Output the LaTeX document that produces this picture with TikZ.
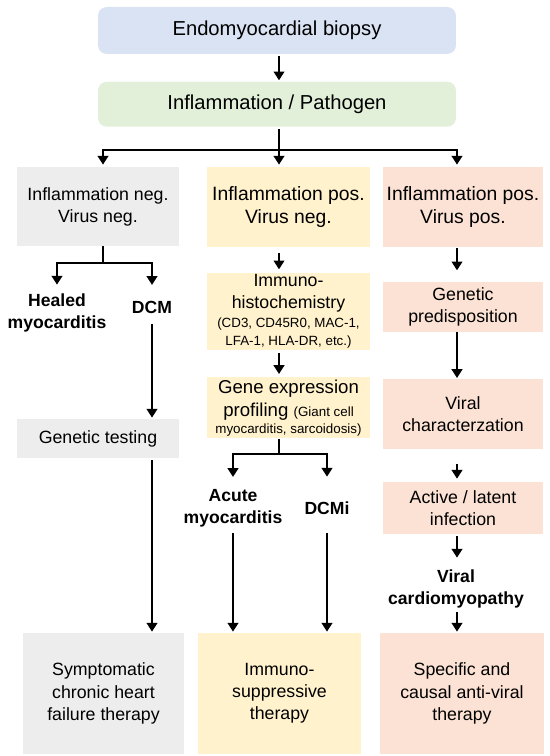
\documentclass[tikz,border=0pt]{standalone}
\usepackage{fontspec}
\setmainfont{Liberation Sans}
\usetikzlibrary{positioning,arrows.meta}

\definecolor{biopsyblue}{HTML}{DAE3F3}
\definecolor{pathgreen}{HTML}{E2F0D9}
\definecolor{neggrey}{HTML}{EDEDED}
\definecolor{posyellow}{HTML}{FFF2CC}
\definecolor{viruspeach}{HTML}{FBE2D4}

\newcommand{\fsmall}{\fontsize{7.6}{9.5}\selectfont}

\begin{document}
\begin{tikzpicture}[x=0.02cm, y=-0.02cm,
  headbox/.style={rectangle, rounded corners=5pt, minimum width=7.16cm, inner sep=0pt,
    font=\fontsize{11.5}{14}\selectfont},
  stepbox/.style={rectangle, inner sep=0pt, align=center, minimum width=#1,
    font=\fontsize{10.1}{12.6}\selectfont},
  stepbox/.default=3.26cm,
  verdict/.style={inner sep=0pt, align=center, font=\fontsize{10}{12.3}\selectfont\bfseries},
  flow/.style={line width=1.5pt, -{Triangle[width=6pt,length=5pt]}},
  link/.style={line width=1.5pt},
]
  \useasboundingbox (0,0) rectangle (550,756);

  % top of the tree
  \node[headbox, fill=biopsyblue, minimum height=0.94cm] (biopsy) at (277,30.5) {Endomyocardial biopsy};
  \node[headbox, fill=pathgreen, minimum height=0.9cm, below=0.54cm of biopsy] (pathogen) {Inflammation / Pathogen};

  % column heads
  \node[stepbox=3.24cm, fill=neggrey, minimum height=1.58cm] (negneg) at (98,206.5) {Inflammation neg.\\Virus neg.};
  \node[stepbox, fill=posyellow, minimum height=1.6cm, font=\fontsize{11}{13}\selectfont] (posneg) at (288.5,207) {Inflammation pos.\\Virus neg.};
  \node[stepbox=3.2cm, fill=viruspeach, minimum height=1.6cm, font=\fontsize{11}{13}\selectfont] (pospos) at (463,207) {Inflammation pos.\\Virus pos.};

  % left column
  \coordinate (leftx) at (103,0);
  \node[verdict] (healed) at (57,313) {Healed\\myocarditis};
  \node[verdict] (dcm) at (152,307) {DCM};
  \node[stepbox=3.23cm, fill=neggrey, minimum height=0.78cm] (gentest) at (98,438.5) {Genetic testing};
  \node[stepbox=3.22cm, fill=neggrey, minimum height=2.42cm] (symptom) at (103.5,693.5) {Symptomatic\\chronic heart\\failure therapy};

  % middle column
  \coordinate (midx) at (279,0);
  \node[stepbox, fill=posyellow, minimum height=1.54cm, below=0.5cm of posneg] (ihc) {Immuno-\\histochemistry\\[-2.2pt]{\fsmall (CD3, CD45R0, MAC-1,}\\[-2.4pt]{\fsmall LFA-1, HLA-DR, etc.)}};
  \node[stepbox, fill=posyellow, minimum height=1.22cm, below=0.54cm of ihc, font=\fontsize{10.6}{13}\selectfont] (gep) {Gene expression\\profiling {\fsmall (Giant cell}\\[-3.4pt]{\fsmall myocarditis, sarcoidosis)}};
  \node[verdict] (acute) at (233,508.5) {Acute\\myocarditis};
  \node[verdict] (dcmi) at (327,508.5) {DCMi};
  \node[stepbox, fill=posyellow, minimum height=2.42cm] (immsup) at (279.5,693.5) {Immuno-\\suppressive\\therapy};

  % right column
  \coordinate (rightx) at (457,0);
  \node[stepbox=3.2cm, fill=viruspeach, minimum height=1.0cm, below=0.68cm of pospos] (genpre) {Genetic\\predisposition};
  \node[stepbox=3.2cm, fill=viruspeach, minimum height=1.4cm, below=0.94cm of genpre] (viral) {Viral\\characterzation};
  \node[stepbox=3.22cm, fill=viruspeach, minimum height=1.04cm, below=0.64cm of viral] (active) {Active / latent\\infection};
  \node[verdict] (viralcm) at (456,589) {Viral\\cardiomyopathy};
  \node[stepbox=3.28cm, fill=viruspeach, minimum height=2.42cm] (specific) at (462,693.5) {Specific and\\causal anti-viral\\therapy};

  % trunk and first split
  \draw[flow, shorten <=0.04cm, shorten >=0.02cm] (biopsy.south -| midx) -- (pathogen.north -| midx);
  \coordinate (split) at (279,150);
  \draw[link, shorten <=0.04cm] (pathogen.south -| midx) -- (split);
  \draw[flow, shorten >=0.04cm] (split) -| (negneg.north -| leftx);
  \draw[flow, shorten >=0.04cm] (split) -- (posneg.north -| midx);
  \draw[flow, shorten >=0.04cm] (split) -| (pospos.north -| rightx);

  % left branch
  \coordinate (lsplit) at (103,263);
  \draw[link] (negneg.south -| leftx) -- (lsplit);
  \draw[flow, shorten >=0.18cm] (lsplit) -| (healed.north);
  \draw[flow, shorten >=0.31cm] (lsplit) -| (dcm.north);
  \draw[flow, shorten <=0.2cm, shorten >=0.02cm] (dcm.south) -- (gentest.north -| dcm);
  \draw[flow, shorten <=0.04cm, shorten >=0.02cm] (gentest.south -| dcm) -- (symptom.north -| dcm);

  % middle branch
  \draw[flow, shorten <=0.12cm, shorten >=0.06cm] (posneg.south -| midx) -- (ihc.north -| midx);
  \draw[flow, shorten <=0.06cm, shorten >=0.06cm] (ihc.south -| midx) -- (gep.north -| midx);
  \coordinate (msplit) at (279,454);
  \draw[link] (gep.south -| midx) -- (msplit);
  \draw[flow, shorten >=0.25cm] (msplit) -| (acute.north);
  \draw[flow, shorten >=0.5cm] (msplit) -| (dcmi.north);
  \draw[flow, shorten <=0.11cm, shorten >=0.02cm] (acute.south) -- (immsup.north -| acute);
  \draw[flow, shorten <=0.36cm, shorten >=0.02cm] (dcmi.south) -- (immsup.north -| dcmi);

  % right branch
  \draw[flow, shorten <=0.02cm, shorten >=0.22cm] (pospos.south -| rightx) -- (genpre.north -| rightx);
  \draw[flow, shorten >=0.02cm] (genpre.south -| rightx) -- (viral.north -| rightx);
  \draw[flow, shorten <=0.28cm, shorten >=0.06cm] (viral.south -| rightx) -- (active.north -| rightx);
  \draw[flow, shorten <=0.04cm, shorten >=0.24cm] (active.south -| rightx) -- (viralcm.north -| rightx);
  \draw[flow, shorten <=0.08cm, shorten >=0.02cm] (viralcm.south -| rightx) -- (specific.north -| rightx);
\end{tikzpicture}
\end{document}
